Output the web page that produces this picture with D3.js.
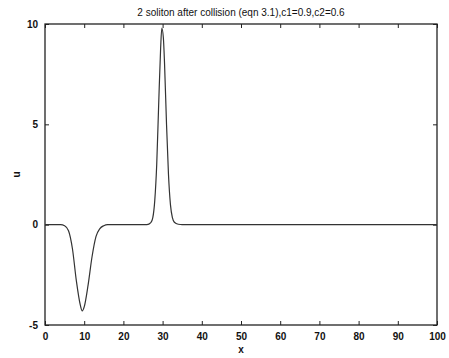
<!DOCTYPE html>
<html><head><meta charset="utf-8">
<script src="https://cdn.jsdelivr.net/npm/d3@7"></script>
<style>body{margin:0;background:#fff}svg{display:block}text{font-family:"Liberation Sans",Arial,sans-serif;fill:#111}</style>
</head><body><svg id="c" width="449" height="358"></svg>
<script>
const xs = [0,2,4,5,6,7,8,9,9.5,10,11,12,13,14,15,16,18,20,22,24,26,27,27.5,28,28.5,29,29.5,29.8,30.2,30.5,31,31.5,32,32.5,33,34,35,40,50,60,70,80,90,100];
const us = [0,0,0,-0.05,-0.3,-1.2,-2.8,-4.0,-4.3,-4.1,-3.0,-1.6,-0.6,-0.2,-0.05,0,0,0,0,0,0,0.1,0.35,1.2,3.0,6.0,8.8,9.8,9.3,8.0,5.0,2.5,1.0,0.35,0.12,0.02,0,0,0,0,0,0,0,0];
const xTicks = [0,10,20,30,40,50,60,70,80,90,100];
const yTicks = [-5,0,5,10];
const title = "2 soliton after collision (eqn 3.1),c1=0.9,c2=0.6";

const svg = d3.select("#c");
const L=45,R=437,T=24,B=325;
const x = d3.scaleLinear().domain([0,100]).range([L,R]);
const y = d3.scaleLinear().domain([-5,10]).range([B,T]);

const g = svg.append("g");
// frame
g.append("rect").attr("x",L).attr("y",T).attr("width",R-L).attr("height",B-T)
 .attr("fill","none").attr("stroke","#222").attr("stroke-width",1.3);

const fmt = d=>String(d);
svg.append("g").attr("transform",`translate(0,${B})`)
 .call(d3.axisBottom(x).tickValues(xTicks).tickSize(-4).tickPadding(8).tickFormat(fmt))
 .call(a=>{a.select(".domain").remove();a.selectAll("line").attr("stroke","#222");a.selectAll("text").attr("font-size",10).attr("font-weight","bold");});
svg.append("g").attr("transform",`translate(0,${T})`)
 .call(d3.axisTop(x).tickValues(xTicks).tickSize(-4).tickFormat(""))
 .call(a=>{a.select(".domain").remove();a.selectAll("line").attr("stroke","#222");});
svg.append("g").attr("transform",`translate(${L},0)`)
 .call(d3.axisLeft(y).tickValues(yTicks).tickSize(-4).tickPadding(7).tickFormat(fmt))
 .call(a=>{a.select(".domain").remove();a.selectAll("line").attr("stroke","#222");a.selectAll("text").attr("font-size",10).attr("font-weight","bold");});
svg.append("g").attr("transform",`translate(${R},0)`)
 .call(d3.axisRight(y).tickValues(yTicks).tickSize(-4).tickFormat(""))
 .call(a=>{a.select(".domain").remove();a.selectAll("line").attr("stroke","#222");});

const line = d3.line().x((d,i)=>x(xs[i])).y((d,i)=>y(us[i])).curve(d3.curveMonotoneX);
svg.append("path").datum(us).attr("d",line).attr("fill","none").attr("stroke","#333").attr("stroke-width",1.2);

svg.append("text").attr("x",(L+R)/2).attr("y",16).attr("text-anchor","middle").attr("font-size",10).text(title);
svg.append("text").attr("x",(L+R)/2).attr("y",353).attr("text-anchor","middle").attr("font-size",10).attr("font-weight","bold").text("x");
svg.append("text").attr("transform",`translate(20,${(T+B)/2}) rotate(-90)`).attr("text-anchor","middle").attr("font-size",10).attr("font-weight","bold").text("u");
</script></body></html>
